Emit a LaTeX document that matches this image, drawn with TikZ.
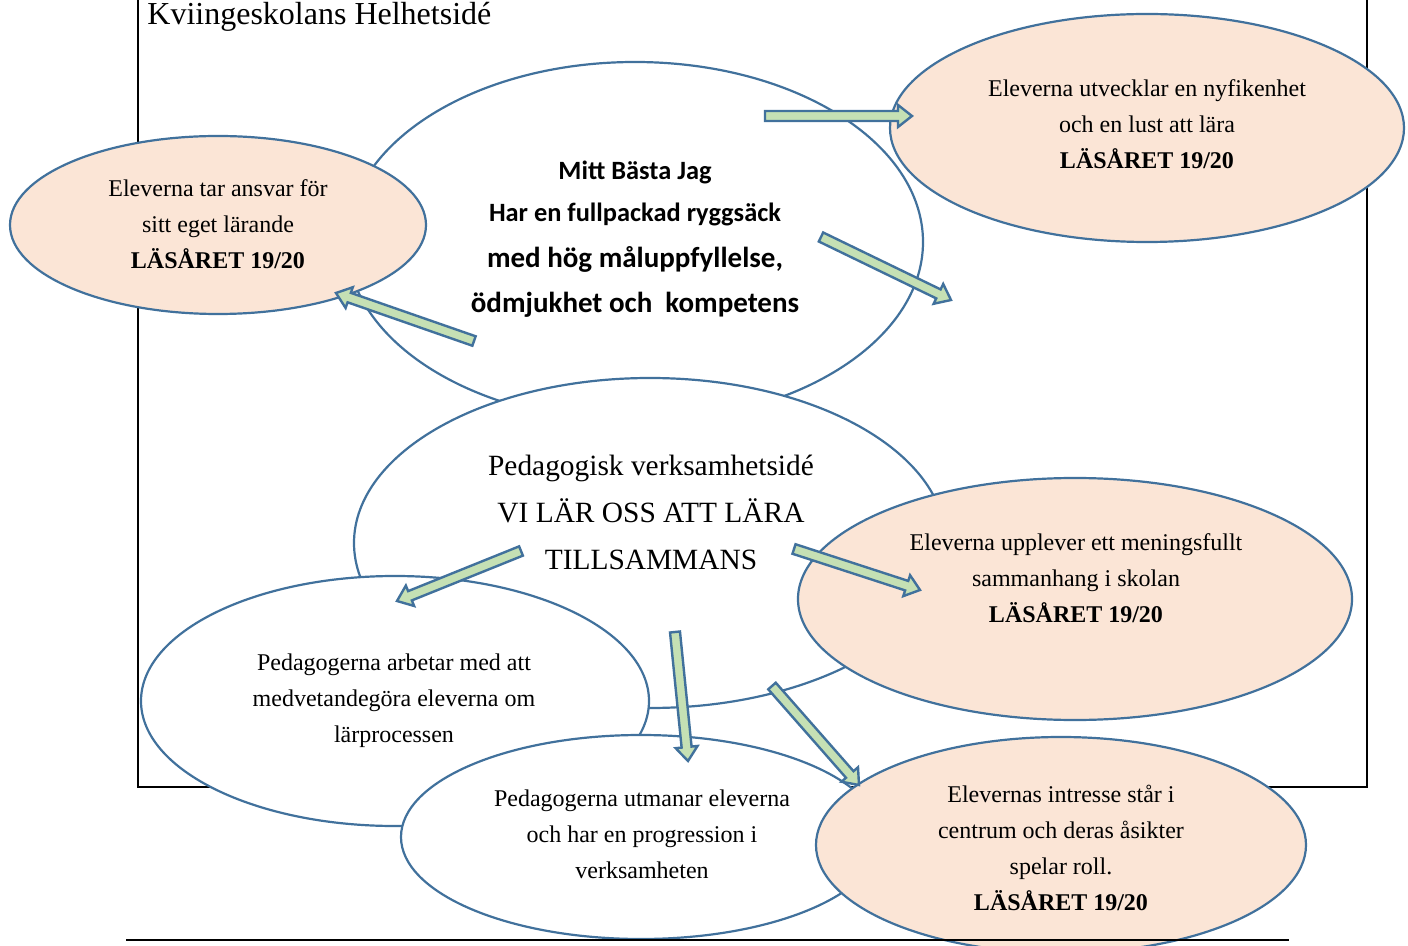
\documentclass[tikz,border=0pt]{standalone}
\usepackage{fontspec}
\setmainfont{Liberation Serif}
\newfontfamily\calfont{Carlito}
\usetikzlibrary{calc,shapes.geometric}
\definecolor{eborder}{HTML}{41719C}
\definecolor{orfill}{HTML}{FBE5D6}
\definecolor{grfill}{HTML}{C5E0B4}
\tikzset{
  ell/.style={ellipse, draw=eborder, line width=1.1pt, inner sep=0pt},
  whiteell/.style={ell, fill=white},
  orell/.style={ell, fill=orfill},
  txt/.style={inner sep=0pt, align=center, font=\fontsize{12}{18}\selectfont},
  blockarr/.style={draw=eborder, fill=grfill, line width=1.2pt, line join=miter},
}
\newcommand{\blockarrow}[2]{%
  \coordinate (hd) at ($(#2)!7pt!(#1)$);
  \draw[blockarr] ($(#1)!2.5pt!90:(#2)$) -- ($(hd)!2.5pt!-90:(#1)$) -- ($(hd)!5.5pt!-90:(#1)$) -- (#2) -- ($(hd)!5.5pt!90:(#1)$) -- ($(hd)!2.5pt!90:(#1)$) -- ($(#1)!2.5pt!-90:(#2)$) -- cycle;}
\begin{document}
\begin{tikzpicture}[x=0.5pt,y=-0.5pt]
\useasboundingbox (0,0) rectangle (1408,946);
% frame
\draw[line width=0.8pt] (138,-10) rectangle (1367,787);
\node[anchor=base west, inner sep=0pt, font=\fontsize{16}{18}\selectfont] (title) at (147,25) {Kviingeskolans Helhetsidé};
% ellipses
\node[whiteell, minimum width=288pt, minimum height=180pt] (mitt) at (635,242) {};
\node[orell, minimum width=208pt, minimum height=89pt] (ansvar) at (218,225) {};
\node[orell, minimum width=257pt, minimum height=114pt] (nyfiken) at (1147,128) {};
\node[whiteell, minimum width=296pt, minimum height=165pt] (ped) at (650,543) {};
\node[orell, minimum width=277pt, minimum height=121pt] (mening) at (1075,599) {};
\node[whiteell, minimum width=254pt, minimum height=125pt] (medvet) at (395,701) {};
\node[whiteell, minimum width=240pt, minimum height=102pt] (utmanar) at (641,837) {};
\node[orell, minimum width=245pt, minimum height=108pt] (intresse) at (1061,845) {};
\draw[line width=1pt] (126,940) -- (1289,940);
% texts
\node[txt] (t-ansvar) at (218,224) {Eleverna tar ansvar för\\sitt eget lärande\\\textbf{LÄSÅRET 19/20}};
\node[txt] (t-nyfiken) at (1147,124) {Eleverna utvecklar en nyfikenhet\\och en lust att lära\\\textbf{LÄSÅRET 19/20}};
\node[txt, font=\calfont\bfseries\fontsize{13.2}{21}\selectfont] (t-mitt1) at (635,193) {Mitt Bästa Jag\\Har en fullpackad ryggsäck};
\node[txt, font=\calfont\bfseries\fontsize{14.5}{22.5}\selectfont] (t-mitt2) at (635,282) {med hög måluppfyllelse,\\ödmjukhet och\ \ kompetens};
\node[txt, font=\fontsize{14.7}{23.5}\selectfont] (t-ped) at (651,512) {Pedagogisk verksamhetsidé\\VI LÄR OSS ATT LÄRA\\TILLSAMMANS};
\node[txt] (t-mening) at (1076,578) {Eleverna upplever ett meningsfullt\\sammanhang i skolan\\\textbf{LÄSÅRET 19/20}};
\node[txt] (t-medvet) at (394,701) {Pedagogerna arbetar med att\\medvetandegöra eleverna om\\lärprocessen};
\node[txt] (t-utmanar) at (642,834) {Pedagogerna utmanar eleverna\\och har en progression i\\verksamheten};
\node[txt] (t-intresse) at (1061,848) {Elevernas intresse står i\\centrum och deras åsikter\\spelar roll.\\\textbf{LÄSÅRET 19/20}};
% arrows
\coordinate (a1s) at (765,116); \coordinate (a1e) at (912,116);
\coordinate (a2s) at (821,237); \coordinate (a2e) at (951,300);
\coordinate (a3s) at (474,341); \coordinate (a3e) at (336,293);
\coordinate (a4s) at (521,551); \coordinate (a4e) at (397,601);
\coordinate (a5s) at (794,549); \coordinate (a5e) at (920,590);
\coordinate (a6s) at (675,632); \coordinate (a6e) at (688,761);
\coordinate (a7s) at (772,686); \coordinate (a7e) at (859,785);
\blockarrow{a1s}{a1e}
\blockarrow{a2s}{a2e}
\blockarrow{a3s}{a3e}
\blockarrow{a4s}{a4e}
\blockarrow{a5s}{a5e}
\blockarrow{a6s}{a6e}
\blockarrow{a7s}{a7e}
\end{tikzpicture}
\end{document}
